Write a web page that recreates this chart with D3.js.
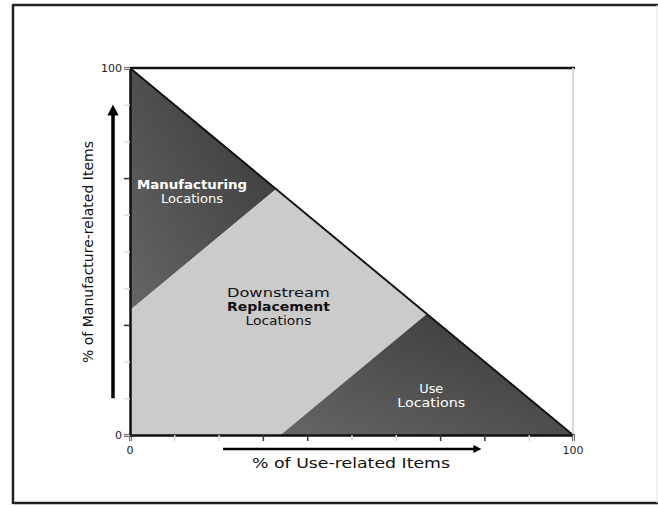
<!DOCTYPE html>
<html>
<head>
<meta charset="utf-8">
<script src="https://cdn.jsdelivr.net/npm/d3@7"></script>
<style>
  body { margin: 0; background: #fff; }
  svg { display: block; font-family: "DejaVu Sans", "Liberation Sans", sans-serif; }
</style>
</head>
<body>
<div id="chart"></div>
<script>
// axis ticks (percent)
var xTicks = [0, 10, 20, 30, 40, 50, 60, 70, 80, 90, 100];
var yTicks = [0, 10, 20, 30, 40, 50, 60, 70, 80, 90, 100];
var xTickLabels = ['0', '100'];
var yTickLabels = ['0', '100'];
var xDarkTicks = [30, 40, 70, 80];
var yDarkTicks = [30, 70];

// zones of the triangle, in % use-related (x) / % manufacture-related (y)
var zoneNames = ['Manufacturing', 'Downstream', 'Use'];
var zoneShapes = [
  [[0, 100], [0, 34], [33, 67]],
  [[0, 34], [0, 0], [34, 0], [67, 33], [33, 67]],
  [[34, 0], [100, 0], [67, 33]]
];
var diagonal = [[0, 100], [100, 0]];

// labels: anchor point and lines
var zoneLabelLines = [
  ['Manufacturing', 'Locations'],
  ['Downstream', 'Replacement', 'Locations'],
  ['Use', 'Locations']
];
var zoneLabelAt = [[14, 67], [33.5, 37.5], [68, 11.5]];

// arrows along the axes (percent extents)
var xArrow = [21, 79];
var yArrow = [10, 89];

var W = 658, H = 506;
var svg = d3.select('#chart').append('svg')
  .attr('width', W)
  .attr('height', H);

//outer frame
svg.append('line').attr('x1', 13).attr('y1', 5).attr('x2', 658).attr('y2', 5)
  .attr('stroke', '#222').attr('stroke-width', 2.5);
svg.append('line').attr('x1', 13).attr('y1', 503).attr('x2', 658).attr('y2', 503)
  .attr('stroke', '#222').attr('stroke-width', 2.5);
svg.append('line').attr('x1', 13).attr('y1', 4).attr('x2', 13).attr('y2', 504)
  .attr('stroke', '#222').attr('stroke-width', 2.5);
svg.append('line').attr('x1', 657).attr('y1', 5).attr('x2', 657).attr('y2', 503)
  .attr('stroke', '#e4e4e4').attr('stroke-width', 1);

var x = d3.scaleLinear().domain([0, 100]).range([130, 573]);
var y = d3.scaleLinear().domain([0, 100]).range([435, 68]);

var defs = svg.append('defs');
var grad = defs.append('linearGradient')
  .attr('id', 'darkGrad')
  .attr('x1', 0).attr('y1', 1).attr('x2', 1).attr('y2', 0);
grad.append('stop').attr('offset', '0%').attr('stop-color', '#666');
grad.append('stop').attr('offset', '100%').attr('stop-color', '#363636');

var zoneFill = d3.scaleOrdinal()
  .domain(zoneNames)
  .range(['url(#darkGrad)', '#cbcbcb', 'url(#darkGrad)']);

var line = d3.line().x(function(d) { return x(d[0]); }).y(function(d) { return y(d[1]); });

svg.append('g').selectAll('path')
  .data(zoneShapes)
  .enter()
  .append('path')
  .attr('d', function(d) { return line(d) + 'Z'; })
  .attr('fill', function(d, i) { return zoneFill(zoneNames[i]); });

//diagonal edge
svg.append('path').attr('d', line(diagonal))
  .attr('stroke', '#111').attr('stroke-width', 2).attr('fill', 'none');
svg.append('path').attr('d', line(diagonal))
  .attr('transform', 'translate(1,-1)')
  .attr('stroke', '#fff').attr('stroke-width', 1)
  .attr('stroke-dasharray', '1.5,1.5').attr('fill', 'none');

//top border and right border
svg.append('line').attr('x1', x(0)).attr('x2', x(100) + 2).attr('y1', y(100)).attr('y2', y(100))
  .attr('stroke', '#111').attr('stroke-width', 2.5);
svg.append('line').attr('x1', x(100)).attr('x2', x(100)).attr('y1', y(100)).attr('y2', y(0))
  .attr('stroke', '#d8d8d8').attr('stroke-width', 2);

//axes
var xAxis = svg.append('g')
  .attr('transform', 'translate(0,' + y(0) + ')')
  .call(d3.axisBottom(x).tickValues(xTicks).tickSize(6).tickFormat(''));
xAxis.select('.domain').attr('stroke', '#111').attr('stroke-width', 2.5);
xAxis.selectAll('.tick line')
  .attr('stroke', function(d) { return xDarkTicks.indexOf(d) >= 0 ? '#333' : '#ddd'; })
  .attr('stroke-width', 1.5);

var yAxis = svg.append('g')
  .attr('transform', 'translate(' + x(0) + ',0)')
  .call(d3.axisLeft(y).tickValues(yTicks).tickSize(6).tickFormat(''));
yAxis.select('.domain').attr('stroke', '#111').attr('stroke-width', 2.5);
yAxis.selectAll('.tick line')
  .attr('stroke', function(d) { return yDarkTicks.indexOf(d) >= 0 ? '#333' : '#ddd'; })
  .attr('stroke-width', 1.5);

//tick labels (only the ends)
svg.selectAll('text.xlab')
  .data(xTickLabels)
  .enter()
  .append('text')
  .attr('class', 'xlab')
  .attr('x', function(d) { return x(+d); })
  .attr('y', y(0) + 19)
  .attr('text-anchor', 'middle')
  .attr('font-size', 11)
  .attr('fill', '#222')
  .text(function(d) { return d; });

svg.selectAll('text.ylab')
  .data(yTickLabels)
  .enter()
  .append('text')
  .attr('class', 'ylab')
  .attr('x', x(0) - 8)
  .attr('y', function(d) { return y(+d) + 4; })
  .attr('text-anchor', 'end')
  .attr('font-size', 11)
  .attr('fill', '#222')
  .text(function(d) { return d; });

//zone labels
var labelColor = ['#fff', '#111', '#fff'];
var labelWidths = [
  [110, 62],
  [103, 103, 66],
  [24, 68]
];
zoneLabelLines.forEach(function(lines, i) {
  var t = svg.append('text')
    .attr('text-anchor', 'middle')
    .attr('font-size', 12.5)
    .attr('fill', labelColor[i]);
  lines.forEach(function(s, j) {
    t.append('tspan')
      .attr('x', x(zoneLabelAt[i][0]))
      .attr('y', y(zoneLabelAt[i][1]) + j * 14)
      .attr('font-weight', (i === 1 && j === 1) || (i === 0 && j === 0) ? 'bold' : 'normal')
      .attr('textLength', labelWidths[i][j])
      .attr('lengthAdjust', 'spacingAndGlyphs')
      .text(s);
  });
});

//axis titles
svg.append('text')
  .attr('x', 351)
  .attr('y', 468)
  .attr('text-anchor', 'middle')
  .attr('font-size', 14)
  .attr('fill', '#111')
  .attr('textLength', 198)
  .attr('lengthAdjust', 'spacingAndGlyphs')
  .text('% of Use-related Items');

svg.append('text')
  .attr('transform', 'translate(93,252) rotate(-90)')
  .attr('text-anchor', 'middle')
  .attr('font-size', 14)
  .attr('fill', '#111')
  .attr('textLength', 222)
  .attr('lengthAdjust', 'spacingAndGlyphs')
  .text('% of Manufacture-related Items');

//arrows
defs.append('marker')
  .attr('id', 'head')
  .attr('viewBox', '0 0 10 10')
  .attr('refX', 2).attr('refY', 5)
  .attr('markerWidth', 3.2).attr('markerHeight', 3.2)
  .attr('orient', 'auto')
  .append('path').attr('d', 'M0,0L10,5L0,10Z').attr('fill', '#000');

svg.append('line')
  .attr('x1', x(xArrow[0])).attr('x2', x(xArrow[1]) - 5)
  .attr('y1', 449).attr('y2', 449)
  .attr('stroke', '#000').attr('stroke-width', 2.5)
  .attr('marker-end', 'url(#head)');

svg.append('line')
  .attr('x1', 113).attr('x2', 113)
  .attr('y1', y(yArrow[0])).attr('y2', y(yArrow[1]) + 5)
  .attr('stroke', '#000').attr('stroke-width', 3.5)
  .attr('marker-end', 'url(#head)');
</script>
</body>
</html>
